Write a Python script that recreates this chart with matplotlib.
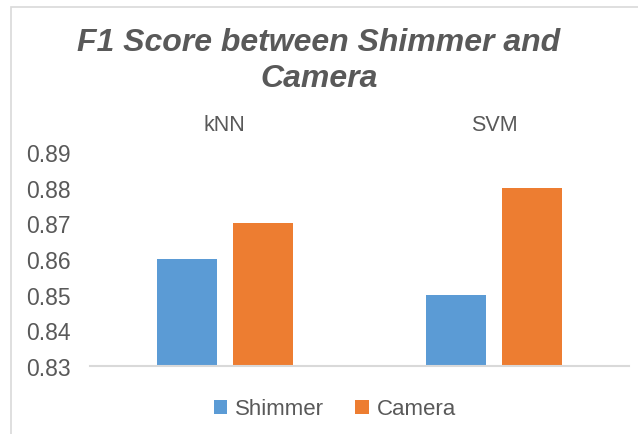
import matplotlib
matplotlib.use('Agg')
import matplotlib.pyplot as plt
from matplotlib.patches import Rectangle
import numpy as np

categories = ['kNN', 'SVM']
shimmer = [0.86, 0.85]
camera = [0.87, 0.88]
yticks = [0.83, 0.84, 0.85, 0.86, 0.87, 0.88, 0.89]

plt.rcParams['font.family'] = ['Liberation Sans', 'DejaVu Sans']
gray = '#595959'

fig = plt.figure(figsize=(6.38, 4.35), dpi=100)
ax = fig.add_axes([90 / 638, 1 - 367 / 435, 539 / 638, 214 / 435])

x = np.arange(len(categories))
w = 0.223
ax.bar(x - 0.141, [v - 0.83 for v in shimmer], w, bottom=0.83, color='#5B9BD5', label='Shimmer')
ax.bar(x + 0.141, [v - 0.83 for v in camera], w, bottom=0.83, color='#ED7D31', label='Camera')

ax.set_xlim(-0.5, 1.5)
ax.set_ylim(0.83, 0.89)
ax.set_yticks(yticks)
ax.set_yticklabels(['%.2f' % t for t in yticks], fontsize=16.5, color=gray)
ax.tick_params(axis='y', length=0, pad=14)
ax.xaxis.tick_top()
ax.set_xticks(x)
ax.set_xticklabels(categories, fontsize=15.5, color=gray)
ax.tick_params(axis='x', length=0, pad=12)
for s in ['top', 'left', 'right']:
    ax.spines[s].set_visible(False)
ax.spines['bottom'].set_color('#D9D9D9')
ax.spines['bottom'].set_linewidth(1.5)

fig.text(0.5, 1 - 61 / 435, 'F1 Score between Shimmer and\nCamera', ha='center', va='center',
         multialignment='center', fontsize=23, fontweight='bold', fontstyle='italic',
         color=gray, linespacing=1.28)

fig.legend(loc='center', bbox_to_anchor=(0.525, 1 - 410 / 435), ncol=2, frameon=False,
           fontsize=16, handlelength=0.6, handleheight=0.6, handletextpad=0.35,
           columnspacing=1.4, labelcolor=gray)

fig.patches.append(Rectangle((11 / 638, -0.1), 1.2, 1 - 8 / 435 + 0.1, transform=fig.transFigure,
                             fill=False, edgecolor='#D9D9D9', linewidth=1.2))

fig.savefig('out.png', dpi=100)
